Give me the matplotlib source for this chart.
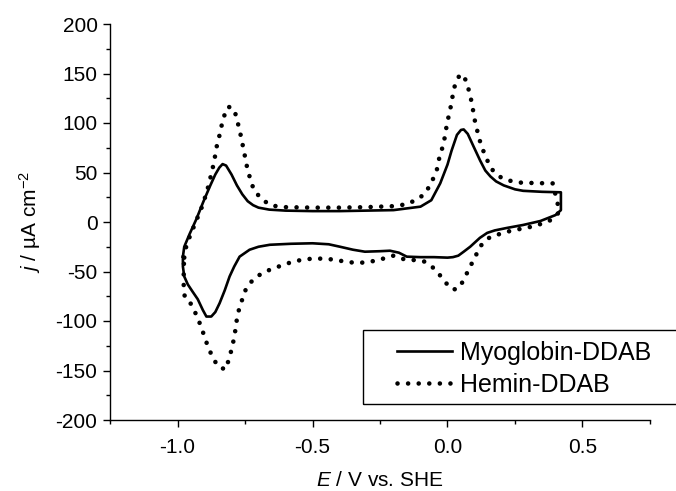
import numpy as np
import matplotlib
matplotlib.use('Agg')
import matplotlib.pyplot as plt
from matplotlib.patches import Rectangle

plt.rcParams['font.family'] = ['Liberation Sans', 'DejaVu Sans']
plt.rcParams['mathtext.fontset'] = 'custom'
plt.rcParams['mathtext.rm'] = 'Liberation Sans'
plt.rcParams['mathtext.it'] = 'Liberation Sans:italic'

# myoglobin film: anodic sweep then cathodic sweep back (E in V, j in uA cm-2)
myo_E = [-0.980, -0.975, -0.955, -0.930, -0.905, -0.880, -0.860, -0.845, -0.833, -0.820,
         -0.800, -0.780, -0.760, -0.740, -0.720, -0.700, -0.660, -0.600, -0.500, -0.400,
         -0.300, -0.200, -0.100, -0.060, -0.027, 0.000, 0.015, 0.035, 0.050, 0.060,
         0.075, 0.097, 0.121, 0.140, 0.159, 0.180, 0.208, 0.250, 0.280, 0.350, 0.420,
         0.420, 0.400, 0.344, 0.280, 0.220, 0.175, 0.147, 0.120, 0.100, 0.084,
         0.060, 0.040, 0.020, 0.000, -0.050, -0.100, -0.151, -0.180, -0.213, -0.250,
         -0.306, -0.350, -0.398, -0.440, -0.500, -0.580, -0.658, -0.700, -0.733, -0.770,
         -0.790, -0.807, -0.825, -0.844, -0.860, -0.875, -0.893, -0.906, -0.925, -0.945,
         -0.962, -0.975, -0.980, -0.980]
myo_j = [-35, -25, -12, 3, 20, 36, 48, 55, 58.5, 57,
         48, 37, 28, 21, 17, 14.5, 12.5, 11.5, 11, 11,
         11.5, 12, 15.5, 22, 39, 58, 72, 88, 93, 93.5,
         89, 76, 62, 52, 46, 41, 37, 33, 31.5, 30.5, 30,
         12, 7, 1, -3, -6, -8.5, -11, -16, -21, -25,
         -30, -34, -35.5, -36, -35.5, -35.5, -35, -31, -29, -29.5,
         -30, -28, -25, -22.5, -21.5, -22, -23, -25, -28, -35,
         -45, -55, -69, -82, -91, -95.5, -95.5, -89, -78, -70,
         -63, -55, -45, -35]

# hemin film
hem_E = [-0.975, -0.968, -0.955, -0.940, -0.925, -0.910, -0.897, -0.887, -0.877, -0.865,
         -0.855, -0.845, -0.838, -0.826, -0.812, -0.790, -0.770, -0.755, -0.740, -0.717,
         -0.684, -0.650, -0.600, -0.500, -0.400, -0.300, -0.200, -0.150, -0.127, -0.090,
         -0.064, -0.040, -0.028, -0.015, -0.002, 0.006, 0.014, 0.020, 0.029, 0.047,
         0.066, 0.078, 0.087, 0.094, 0.100, 0.109, 0.118, 0.131, 0.146, 0.165,
         0.198, 0.235, 0.274, 0.330, 0.390,
         0.415, 0.400, 0.378, 0.340, 0.307, 0.270, 0.233, 0.195, 0.159, 0.140,
         0.120, 0.103, 0.084, 0.066, 0.045, 0.028, 0.010, -0.018, -0.049, -0.085,
         -0.120, -0.157, -0.200, -0.238, -0.275, -0.312, -0.350, -0.390, -0.423, -0.454,
         -0.500, -0.535, -0.572, -0.609, -0.646, -0.683, -0.720, -0.747, -0.760, -0.772,
         -0.780, -0.785, -0.791, -0.800, -0.810, -0.822, -0.850, -0.871, -0.887, -0.900,
         -0.912, -0.927, -0.945, -0.962, -0.973, -0.977, -0.977, -0.977, -0.975]
hem_j = [-36, -25, -15, -5, 5, 15, 25.6, 35, 46, 60,
         76, 87, 96, 108, 116.5, 114, 93, 73, 52, 32,
         22, 16.5, 15, 14.5, 14.5, 15, 16, 18, 21, 27,
         37, 52, 68, 78, 99, 109, 119, 129, 140, 149.5,
         144, 134, 124, 114, 104, 93.5, 83.5, 73, 63, 53,
         45, 41.4, 39.7, 39.3, 39,
         10.4, 6, 1.3, -2.5, -5, -7, -9, -12, -15, -19,
         -25, -35, -45, -55, -66, -68, -67, -57, -47, -40,
         -38.5, -38, -34, -37, -39.5, -41, -41, -39.5, -38, -37,
         -37, -38, -40, -43.4, -47, -51, -58, -68, -78, -88,
         -98, -108, -118, -129, -139, -149, -146, -136, -126, -116,
         -106, -96, -85, -78, -76, -66, -56, -46, -36]

x_ticks = [-1.0, -0.5, 0.0, 0.5]
y_ticks = np.arange(-200, 201, 50)

fig = plt.figure(figsize=(6.76, 4.91), dpi=100)
ax = fig.add_axes([110 / 676, 1 - 420 / 491, 540 / 676, 396 / 491])

ax.plot(myo_E, myo_j, color='black', lw=1.9, label='Myoglobin-DDAB',
        solid_joinstyle='round')
ax.plot(hem_E, hem_j, color='black', lw=3.3, dashes=(0.01, 2.3),
        dash_capstyle='round', label='Hemin-DDAB')

ax.set_xlim(-1.25, 0.75)
ax.set_ylim(-200, 200)
ax.set_xticks(x_ticks)
ax.set_xticklabels(['-1.0', '-0.5', '0.0', '0.5'])
ax.set_xticks(np.arange(-1.25, 0.76, 0.25), minor=True)
ax.set_yticks(y_ticks)
ax.set_yticklabels([str(v) for v in y_ticks])
ax.set_yticks(np.arange(-200, 201, 25), minor=True)

for side in ['top', 'right']:
    ax.spines[side].set_visible(False)
for side in ['left', 'bottom']:
    ax.spines[side].set_linewidth(1.0)
ax.tick_params(which='major', direction='out', length=5, width=1.0, labelsize=15, pad=4)
ax.tick_params(axis='x', which='major', pad=8)
ax.tick_params(which='minor', direction='out', length=3, width=1.0)

ax.set_xlabel(r'$E$ / V vs. SHE', fontsize=15, labelpad=10)
ax.set_ylabel(r'$j$ / µA cm$^{-2}$', fontsize=15, labelpad=9)

# legend box runs past the right edge of the figure
box = Rectangle((363 / 676, 1 - 404 / 491), 330 / 676, 74 / 491,
                transform=fig.transFigure, fill=False, edgecolor='black', lw=1.0)
fig.add_artist(box)
leg = fig.legend(loc='upper left', bbox_to_anchor=(392 / 676, 1 - 336 / 491),
                 bbox_transform=fig.transFigure, borderaxespad=0, fontsize=18,
                 frameon=False, handlelength=2.2, handletextpad=0.3,
                 labelspacing=0.3, borderpad=0.2)

fig.savefig('out.png', dpi=100)
